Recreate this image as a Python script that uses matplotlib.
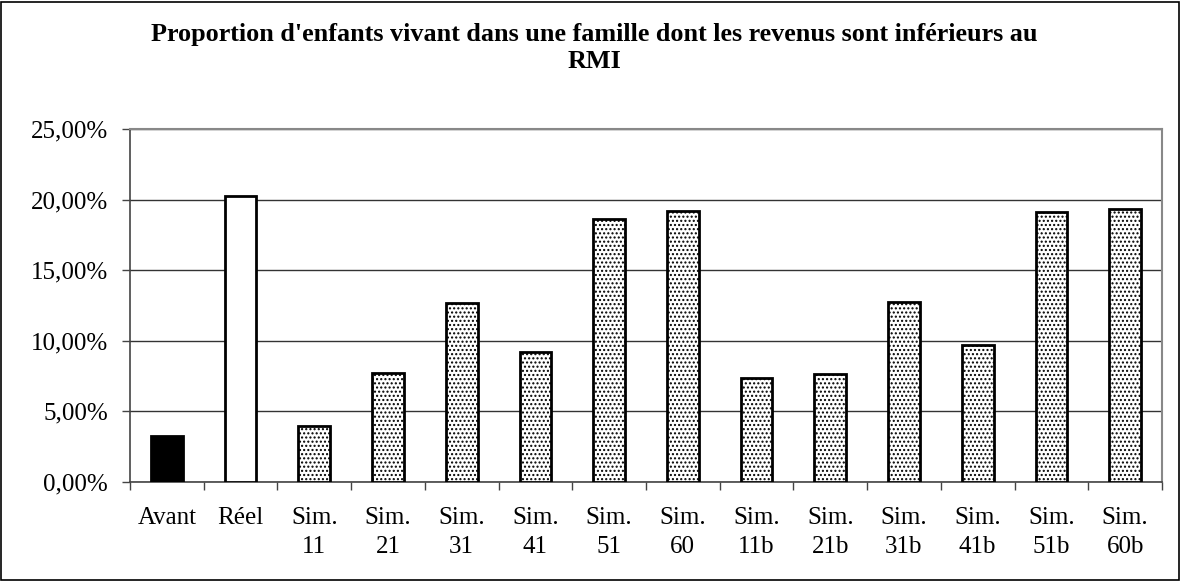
import matplotlib
matplotlib.use("Agg")
import matplotlib.pyplot as plt
from matplotlib.patches import Rectangle
from matplotlib.ticker import FuncFormatter, MultipleLocator

categories = ["Avant", "Réel", "Sim.\n11", "Sim.\n21", "Sim.\n31", "Sim.\n41", "Sim.\n51",
              "Sim.\n60", "Sim.\n11b", "Sim.\n21b", "Sim.\n31b", "Sim.\n41b", "Sim.\n51b", "Sim.\n60b"]
values = [3.28, 20.28, 3.97, 7.70, 12.65, 9.23, 18.60, 19.19, 7.37, 7.67, 12.77, 9.73, 19.10, 19.33]
title = "Proportion d'enfants vivant dans une famille dont les revenus sont inférieurs au\nRMI"

plt.rcParams['font.family'] = ['Liberation Serif', 'DejaVu Serif']
plt.rcParams['hatch.linewidth'] = 1.0
plt.rcParams['hatch.color'] = '#444444'

W, H = 1181, 581
fig = plt.figure(figsize=(W / 100, H / 100), dpi=100)
ax = fig.add_axes([130 / W, 1 - 482 / H, (1162 - 130) / W, (482 - 129) / H])

x = list(range(len(values)))
for i, v in enumerate(values):
    if i == 0:
        fc, hatch = 'black', None
    elif i == 1:
        fc, hatch = 'white', None
    else:
        fc, hatch = 'white', '....'
    ax.bar(i, v, width=0.43, facecolor=fc, edgecolor='black', linewidth=2.0, hatch=hatch, zorder=3)

ax.set_xlim(-0.5, len(values) - 0.5)
ax.set_ylim(0, 25)
ax.yaxis.set_major_locator(MultipleLocator(5))
ax.yaxis.set_major_formatter(FuncFormatter(lambda v, p: f"{v:.2f}".replace('.', ',') + "%"))
ax.yaxis.grid(True, color='#333333', linewidth=1.0, zorder=0)
ax.set_xticks(x)
ax.set_xticklabels(categories, fontsize=18, linespacing=1.4)
ax.set_xticks([i + 0.5 for i in range(-1, len(values))], minor=True)
ax.tick_params(axis='x', which='major', length=0, pad=18)
ax.tick_params(axis='x', which='minor', length=6, width=1, color='#444444', direction='out')
ax.tick_params(axis='y', labelsize=18, length=6, width=1, color='#444444', direction='out', pad=10)

for s in ['top', 'right']:
    ax.spines[s].set_color('#888888')
    ax.spines[s].set_linewidth(1.5)
ax.spines['left'].set_color('#444444')
ax.spines['bottom'].set_color('#444444')
ax.spines['left'].set_linewidth(1.2)
ax.spines['bottom'].set_linewidth(1.2)

fig.text(0.503, 1 - 48 / H, title, ha='center', va='center', fontsize=18.8, fontweight='bold', linespacing=1.2)

fig.patches.append(Rectangle((1 / W, 1 / H), 1 - 3 / W, 1 - 3 / H, transform=fig.transFigure,
                             fill=False, edgecolor='black', linewidth=1.2))

fig.savefig("out.png", dpi=100)
